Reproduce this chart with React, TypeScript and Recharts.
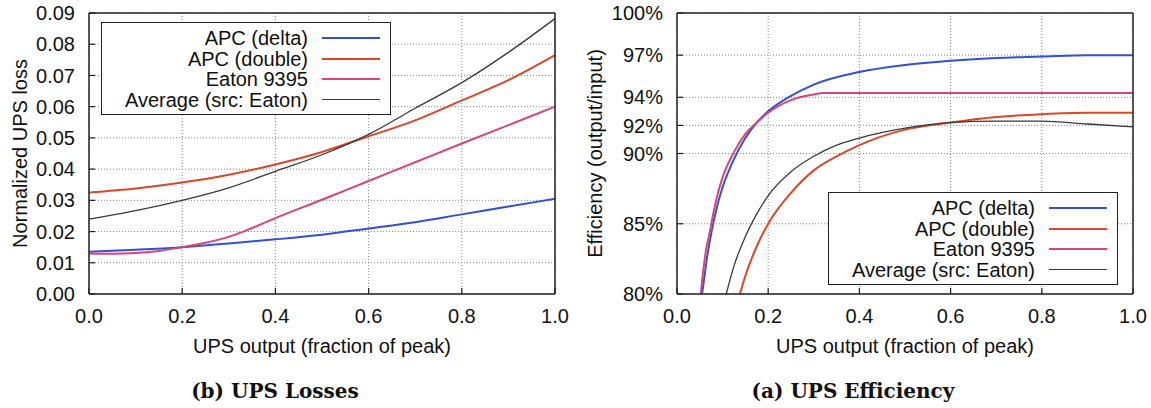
import React from "react";
import {
  LineChart,
  Line,
  XAxis,
  YAxis,
  CartesianGrid,
  Legend,
} from "recharts";

const FONT = '"Liberation Sans", Arial, Helvetica, sans-serif';
const SERIF = '"DejaVu Serif", "Liberation Serif", serif';
const INK = "#222";

// series
const seriesNames = ["APC (delta)", "APC (double)", "Eaton 9395", "Average (src: Eaton)"];
const seriesColors = ["#3450d0", "#d8482a", "#d8457a", "#3a3a3a"];
const seriesWidths = [2, 2, 2, 1.3];

// axes
const xTicks = [0, 0.2, 0.4, 0.6, 0.8, 1.0];
const lossTicks = [0, 0.01, 0.02, 0.03, 0.04, 0.05, 0.06, 0.07, 0.08, 0.09];
const effTicks = [80, 85, 90, 92, 94, 97, 100];

// (b) UPS Losses
const lossX = [0, 0.1, 0.2, 0.3, 0.4, 0.5, 0.6, 0.7, 0.8, 0.9, 1.0];
const apcDeltaLoss = [0.0135, 0.0142, 0.015, 0.0162, 0.0175, 0.019, 0.021, 0.023, 0.0255, 0.028, 0.0305];
const apcDoubleLoss = [0.0325, 0.0338, 0.0357, 0.0382, 0.0415, 0.0455, 0.0505, 0.0556, 0.062, 0.0685, 0.0765];
const averageLoss = [0.024, 0.0267, 0.03, 0.034, 0.0393, 0.0446, 0.0511, 0.0595, 0.0677, 0.0774, 0.0882];
const eatonLossX = [0, 0.05, 0.1, 0.15, 0.2, 0.25, 0.3, 0.33, 0.4, 0.5, 0.6, 0.7, 0.8, 0.9, 1.0];
const eatonLoss = [0.013, 0.0129, 0.0131, 0.0138, 0.015, 0.0164, 0.0183, 0.0199, 0.0243, 0.0302, 0.0362, 0.0422, 0.0482, 0.0541, 0.06];

// (a) UPS Efficiency (%)
const apcDeltaEffX = [0.055, 0.06, 0.065, 0.07, 0.08, 0.09, 0.1, 0.125, 0.15, 0.175, 0.2, 0.25, 0.3, 0.4, 0.5, 0.6, 0.7, 0.8, 0.9, 1.0];
const apcDeltaEff = [80.0, 81.2, 82.4, 83.4, 85.1, 86.5, 87.6, 89.6, 91.1, 92.2, 93.0, 94.1, 94.9, 95.8, 96.3, 96.6, 96.8, 96.9, 97.0, 97.0];
const apcDoubleEffX = [0.138, 0.15, 0.175, 0.2, 0.25, 0.3, 0.35, 0.4, 0.5, 0.6, 0.7, 0.8, 0.9, 1.0];
const apcDoubleEff = [80.0, 81.3, 83.4, 85.0, 87.2, 88.8, 89.8, 90.6, 91.7, 92.2, 92.6, 92.8, 92.9, 92.9];
const eatonEffX = [0.052, 0.06, 0.065, 0.07, 0.08, 0.09, 0.1, 0.125, 0.15, 0.175, 0.2, 0.25, 0.3, 0.32, 0.4, 0.5, 0.6, 0.7, 0.8, 0.9, 1.0];
const eatonEff = [80.0, 82.3, 83.4, 84.1, 85.8, 87.2, 88.3, 90.1, 91.4, 92.2, 92.9, 93.8, 94.2, 94.3, 94.3, 94.3, 94.3, 94.3, 94.3, 94.3, 94.3];
const averageEffX = [0.108, 0.125, 0.15, 0.175, 0.2, 0.25, 0.3, 0.35, 0.4, 0.5, 0.6, 0.7, 0.8, 0.9, 1.0];
const averageEff = [80.0, 82.0, 84.1, 85.7, 87.0, 88.7, 89.8, 90.6, 91.1, 91.8, 92.2, 92.3, 92.3, 92.1, 91.9];

const zip = (xs: number[], ys: number[]) => xs.map((x, i) => ({ x, y: ys[i] }));

const lossSeries = [
  zip(lossX, apcDeltaLoss),
  zip(lossX, apcDoubleLoss),
  zip(eatonLossX, eatonLoss),
  zip(lossX, averageLoss),
];
const effSeries = [
  zip(apcDeltaEffX, apcDeltaEff),
  zip(apcDoubleEffX, apcDoubleEff),
  zip(eatonEffX, eatonEff),
  zip(averageEffX, averageEff),
];

// legend keeps the series order of the original (no alphabetical sort)
const LegendBox = () => (
  <div
    style={{
      boxSizing: "border-box",
      width: 290,
      height: 93,
      border: `1.5px solid ${INK}`,
      background: "#fff",
      paddingTop: 5,
      fontFamily: FONT,
      fontSize: 20,
      color: "#111",
    }}
  >
    {seriesNames.map((name, i) => (
      <div key={name} style={{ display: "flex", alignItems: "center", height: 20.5 }}>
        <span style={{ width: 206, textAlign: "right", lineHeight: "20.5px", whiteSpace: "nowrap" }}>
          {name}
        </span>
        <span
          style={{
            marginLeft: 14,
            width: 58,
            height: seriesWidths[i],
            background: seriesColors[i],
          }}
        />
      </div>
    ))}
  </div>
);

type PanelProps = {
  series: { x: number; y: number }[][];
  yTicks: number[];
  yDomain: [number, number];
  yFmt: (v: number) => string;
  yTitle: string;
  caption: string;
  captionX: number;
  width: number;
  yWidth: number;
  rightMargin: number;
  legendLeft: number;
  legendTop: number;
};

const Panel = (p: PanelProps) => (
  <LineChart
    width={p.width}
    height={408}
    margin={{ top: 13, right: p.rightMargin, bottom: 0, left: 0 }}
    style={{ fontFamily: FONT }}
  >
    <CartesianGrid stroke="#888" strokeDasharray="1 2" strokeWidth={1} />
    <XAxis
      type="number"
      dataKey="x"
      domain={[0, 1]}
      ticks={xTicks}
      interval={0}
      height={114}
      tickSize={-6}
      tickMargin={21}
      tickFormatter={(v: number) => v.toFixed(1)}
      tick={{ fill: "#111", fontSize: 20 }}
      axisLine={{ stroke: INK, strokeWidth: 1.5 }}
      tickLine={{ stroke: INK, strokeWidth: 1.2 }}
      label={(lp: any) => {
        const vb = lp.viewBox;
        return (
          <g>
            <text
              x={vb.x + vb.width / 2}
              y={vb.y + 52}
              textAnchor="middle"
              dominantBaseline="central"
              fontSize={20}
              fill="#111"
              fontFamily={FONT}
            >
              UPS output (fraction of peak)
            </text>
            <text
              x={p.captionX}
              y={vb.y + 97}
              textAnchor="middle"
              dominantBaseline="central"
              fontSize={20}
              fontWeight="bold"
              fill="#111"
              fontFamily={SERIF}
            >
              {p.caption}
            </text>
          </g>
        );
      }}
    />
    <XAxis
      xAxisId="top"
      orientation="top"
      mirror
      type="number"
      dataKey="x"
      domain={[0, 1]}
      ticks={xTicks}
      interval={0}
      tickSize={6}
      tickFormatter={() => ""}
      axisLine={{ stroke: INK, strokeWidth: 1.5 }}
      tickLine={{ stroke: INK, strokeWidth: 1.2 }}
    />
    <YAxis
      type="number"
      domain={p.yDomain}
      ticks={p.yTicks}
      interval={0}
      allowDataOverflow
      width={p.yWidth}
      tickSize={-6}
      tickMargin={20}
      tickFormatter={p.yFmt}
      tick={{ fill: "#111", fontSize: 20 }}
      axisLine={{ stroke: INK, strokeWidth: 1.5 }}
      tickLine={{ stroke: INK, strokeWidth: 1.2 }}
      label={(lp: any) => {
        const vb = lp.viewBox;
        const cx = vb.x + 20;
        const cy = vb.y + vb.height / 2;
        return (
          <text
            x={cx}
            y={cy}
            transform={`rotate(-90 ${cx} ${cy})`}
            textAnchor="middle"
            dominantBaseline="central"
            fontSize={20}
            fill="#111"
            fontFamily={FONT}
          >
            {p.yTitle}
          </text>
        );
      }}
    />
    <YAxis
      yAxisId="right"
      orientation="right"
      mirror
      type="number"
      domain={p.yDomain}
      ticks={p.yTicks}
      interval={0}
      tickSize={6}
      tickFormatter={() => ""}
      axisLine={{ stroke: INK, strokeWidth: 1.5 }}
      tickLine={{ stroke: INK, strokeWidth: 1.2 }}
    />
    {p.series.map((d, i) => (
      <Line
        key={seriesNames[i]}
        data={d}
        dataKey="y"
        name={seriesNames[i]}
        type="monotone"
        stroke={seriesColors[i]}
        strokeWidth={seriesWidths[i]}
        dot={false}
        activeDot={false}
        isAnimationActive={false}
      />
    ))}
    <Legend
      layout="vertical"
      align="center"
      verticalAlign="middle"
      width={290}
      height={93}
      wrapperStyle={{ left: p.legendLeft, top: p.legendTop, width: 290, height: 93 }}
      content={LegendBox}
    />
  </LineChart>
);

export default function App() {
  return (
    <div
      style={{
        position: "absolute",
        left: 0,
        top: 0,
        width: 1151,
        height: 408,
        background: "#fff",
        overflow: "hidden",
      }}
    >
      <div style={{ position: "absolute", left: 0, top: 0 }}>
        <Panel
          series={lossSeries}
          yTicks={lossTicks}
          yDomain={[0, 0.09]}
          yFmt={(v) => v.toFixed(2)}
          yTitle="Normalized UPS loss"
          caption="(b) UPS Losses"
          captionX={275}
          width={575}
          yWidth={89}
          rightMargin={20}
          legendLeft={101}
          legendTop={22}
        />
      </div>
      <div style={{ position: "absolute", left: 575, top: 0 }}>
        <Panel
          series={effSeries}
          yTicks={effTicks}
          yDomain={[80, 100]}
          yFmt={(v) => `${v}%`}
          yTitle="Efficiency (output/input)"
          caption="(a) UPS Efficiency"
          captionX={278}
          width={576}
          yWidth={102}
          rightMargin={18}
          legendLeft={253}
          legendTop={192}
        />
      </div>
    </div>
  );
}
